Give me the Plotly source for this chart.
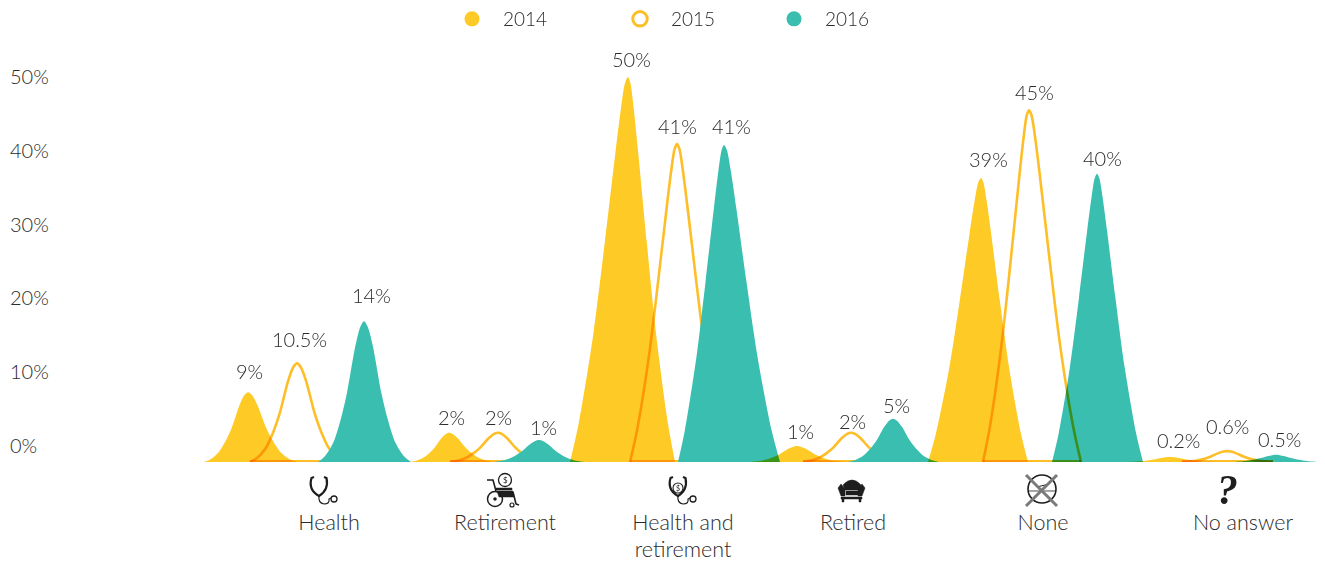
import json
import plotly.graph_objects as go

# ---------- data ----------
categories = ["Health", "Retirement", "Health and<br>retirement", "Retired", "None", "No answer"]
category_pos = [329, 505, 683, 853, 1043, 1243]
years = ["2014", "2015", "2016"]

# plotted peak heights, in units of the value axis
peaks_2014 = [7.3, 1.8, 50.0, 0.0, 36.3, -1.5]
peaks_2015 = [11.2, 1.8, 40.9, 1.8, 45.5, -0.7]
peaks_2016 = [16.9, 0.8, 40.8, 3.7, 36.9, -1.2]

# printed labels
labels_2014 = ["9%", "2%", "50%", "1%", "39%", "0.2%"]
labels_2015 = ["10.5%", "2%", "41%", "2%", "45%", "0.6%"]
labels_2016 = ["14%", "1%", "41%", "5%", "40%", "0.5%"]

# where each hump peaks and where it meets the base line, on the horizontal axis
peak_x_2014 = [248, 449, 628, 797, 981, 1170]
peak_x_2015 = [297, 498, 677, 851, 1029, 1227]
peak_x_2016 = [364, 539, 724, 893, 1097, 1276]
start_2014 = [204, 410, 570, 750, 928, 1125]
start_2015 = [250, 450, 630, 803, 983, 1182]
start_2016 = [318, 493, 678, 848, 1052, 1230]
end_2014 = [297, 494, 675, 845, 1028, 1215]
end_2015 = [345, 545, 725, 900, 1081, 1273]
end_2016 = [411, 585, 780, 939, 1143, 1322]

label_x_2014 = [249, 451, 631, 800, 988, 1178]
label_x_2015 = [299, 498, 677, 852, 1034, 1227]
label_x_2016 = [371, 543, 731, 896, 1102, 1279]
label_px_2014 = [371, 417, 59, 431, 159, 440]
label_px_2015 = [339, 417, 126, 421, 92, 426]
label_px_2016 = [295, 427, 126, 405, 158, 439]

y_ticks = [0, 10, 20, 30, 40, 50]
y_ticktext = ["0%", "10%", "20%", "30%", "40%", "50%"]

# ---------- style ----------
YELLOW = "#FDCA26"
LINE = "#FEBE28"
TEAL = "#39BEB0"
TEXT = "#2b2b2b"
ICON = "#1e1e1e"
FONT = "Lato"
WEIGHT = 300
W, H = 1325, 561
PLOT_BOTTOM = 462
PX_PER_UNIT = 7.38
ZERO_PX = 446
BASE = (ZERO_PX - PLOT_BOTTOM) / PX_PER_UNIT
TOP = ZERO_PX / PX_PER_UNIT

# shape tables of one flank of a hump (distance from the peak, share of the height)
tall_dx = [1, 0.85, 0.6, 0.4, 0.22, 0.12, 0.05, 0]
tall_dy = [0, 0.10, 0.33, 0.57, 0.80, 0.92, 0.985, 1]
short_dx = [1, 0.85, 0.67, 0.5, 0.37, 0.19, 0.08, 0]
short_dy = [0, 0.04, 0.136, 0.31, 0.49, 0.82, 0.96, 1]


def hump(start, peak_x, end, peak):
    dx, dy = (tall_dx, tall_dy) if peak > 30 else (short_dx, short_dy)
    xs = [peak_x - (peak_x - start) * d for d in dx] + [peak_x + (end - peak_x) * d for d in dx[-2::-1]]
    ys = [BASE + (peak - BASE) * d for d in dy + dy[-2::-1]]
    return xs, ys


fig = go.Figure()
multiply = []


def filled(start, peak_x, end, peak, colour, name, blend):
    xs, ys = hump(start, peak_x, end, peak)
    fig.add_trace(go.Scatter(x=xs, y=ys, mode="lines", fill="toself", fillcolor=colour,
                             line=dict(width=0, shape="spline", smoothing=0.8, color=colour),
                             name=name, showlegend=False, hoverinfo="skip", cliponaxis=False))
    multiply.append(blend)


def outlined(start, peak_x, end, peak):
    xs, ys = hump(start, peak_x, end, peak)
    fig.add_trace(go.Scatter(x=xs, y=ys, mode="lines",
                             line=dict(width=2.6, shape="spline", smoothing=0.8, color=LINE),
                             name="2015", showlegend=False, hoverinfo="skip", cliponaxis=False))
    multiply.append(True)
    fig.add_trace(go.Scatter(x=[xs[0], xs[-1]], y=[BASE + 0.12, BASE + 0.12], mode="lines",
                             line=dict(width=2.4, color=LINE),
                             name="2015", showlegend=False, hoverinfo="skip", cliponaxis=False))
    multiply.append(True)


for g in range(len(categories)):
    filled(start_2014[g], peak_x_2014[g], end_2014[g], peaks_2014[g], YELLOW, "2014", True)
    if g < 4:
        outlined(start_2015[g], peak_x_2015[g], end_2015[g], peaks_2015[g])
        filled(start_2016[g], peak_x_2016[g], end_2016[g], peaks_2016[g], TEAL, "2016", False)
    else:
        filled(start_2016[g], peak_x_2016[g], end_2016[g], peaks_2016[g], TEAL, "2016", False)
        outlined(start_2015[g], peak_x_2015[g], end_2015[g], peaks_2015[g])

# ---------- legends ----------
legend_specs = [
    ("legend", "2014", dict(symbol="circle", size=15, color=YELLOW), 441),
    ("legend2", "2015", dict(symbol="circle-open", size=14.5, color=LINE, line=dict(width=3, color=LINE)), 609),
    ("legend3", "2016", dict(symbol="circle", size=15, color=TEAL), 763),
]
legend_layout = {}
for key, name, marker, left in legend_specs:
    fig.add_trace(go.Scatter(x=[None], y=[None], mode="markers", name=name, marker=marker,
                             legend=key, showlegend=True, hoverinfo="skip"))
    multiply.append(False)
    legend_layout[key] = dict(x=left / W, xref="container", xanchor="left",
                              y=1 + 9 / H, yref="container", yanchor="top",
                              itemwidth=52, borderwidth=0, bgcolor="rgba(0,0,0,0)",
                              font=dict(family=FONT, size=19, color=TEXT, weight=WEIGHT), itemclick=False,
                              itemdoubleclick=False)

# ---------- value labels ----------
annotations = []
series_labels = [
    (labels_2014, label_x_2014, label_px_2014),
    (labels_2015, label_x_2015, label_px_2015),
    (labels_2016, label_x_2016, label_px_2016),
]
for texts, xs, pys in series_labels:
    for t, x, py_ in zip(texts, xs, pys):
        annotations.append(dict(x=x, y=(ZERO_PX - py_) / PX_PER_UNIT, xref="x", yref="y", text=t,
                                showarrow=False, xanchor="center", yanchor="middle",
                                font=dict(family=FONT, size=20, color=TEXT, weight=WEIGHT)))


# ---------- icons, in page pixels ----------
def px(x):
    return x / W


def py(y):
    return 1 - y / PLOT_BOTTOM


def path(cmds):
    out = []
    for c in cmds:
        if isinstance(c, str):
            out.append(c)
        else:
            out.append(f"{px(c[0]):.5f},{py(c[1]):.5f}")
    return " ".join(out)


shapes = []


def stroke(cmds, width=2.0, colour=ICON, fill="rgba(0,0,0,0)"):
    shapes.append(dict(type="path", xref="paper", yref="paper", path=path(cmds),
                       line=dict(color=colour, width=width), fillcolor=fill))


def solid(cmds, colour=ICON):
    shapes.append(dict(type="path", xref="paper", yref="paper", path=path(cmds),
                       line=dict(color=colour, width=0.5), fillcolor=colour))


def circle(cx, cy, r, width=1.6, colour=ICON, fill="rgba(0,0,0,0)"):
    shapes.append(dict(type="circle", xref="paper", yref="paper",
                       x0=px(cx - r), x1=px(cx + r), y0=py(cy + r), y1=py(cy - r),
                       line=dict(color=colour, width=width), fillcolor=fill))


def seg(x0, y0, x1, y1, width, colour):
    stroke(["M", (x0, y0), "L", (x1, y1)], width, colour)


def icon_text(x, y, text, family, size):
    annotations.append(dict(x=px(x), y=py(y), xref="paper", yref="paper", text=text, showarrow=False,
                            xanchor="center", yanchor="middle", font=dict(family=family, size=size, color=ICON)))


def stethoscope(o):
    stroke(["M", (o + 5, 477), "L", (o + 2.5, 478), "Q", (o - 1, 490), (o + 10, 496),
            "Q", (o + 20, 490), (o + 17.5, 478), "L", (o + 15, 477)], 2.2)
    stroke(["M", (o + 10, 496), "Q", (o + 9, 503), (o + 15, 504),
            "Q", (o + 21, 504), (o + 20, 499), "L", (o + 22, 498)], 1.2)
    circle(o + 25, 499, 3, 1.3)


stethoscope(309)
stethoscope(668)
circle(678, 488, 5, 1.1)
icon_text(678, 488, "$", FONT, 7)

# wheelchair
circle(505, 480, 6.5, 1.3)
icon_text(505, 480, "$", FONT, 8)
stroke(["M", (487, 480), "L", (493, 480), "L", (496, 491)], 1.6)
solid(["M", (496, 488), "L", (512, 488), "L", (512, 490), "L", (496, 490), "Z"])
solid(["M", (497, 491), "L", (513, 491), "L", (514, 497), "L", (499, 497), "Z"])
stroke(["M", (513, 492), "L", (516, 504), "L", (519, 505)], 1.6)
circle(495, 499, 7.5, 1.5)
circle(495, 499, 1, 1.5, fill=ICON)
circle(512, 505, 2, 1.2)

# armchair
solid(["M", (843, 485), "Q", (852, 475), (861, 485), "L", (859, 490), "L", (845, 490), "Z"])
solid(["M", (838, 488), "L", (841, 484), "L", (845, 489), "L", (845, 496), "L", (841, 496), "Z"])
solid(["M", (865, 488), "L", (862, 484), "L", (858, 489), "L", (858, 496), "L", (862, 496), "Z"])
solid(["M", (846, 491), "L", (858, 491), "L", (858, 495), "L", (846, 495), "Z"])
solid(["M", (841, 497), "L", (862, 497), "L", (862, 499), "L", (841, 499), "Z"])
solid(["M", (842, 499), "L", (844, 499), "L", (844, 502), "L", (842, 502), "Z"])
solid(["M", (859, 499), "L", (861, 499), "L", (861, 502), "L", (859, 502), "Z"])

# crossed-out mark
circle(1042, 489, 14, 1.6)
seg(1028, 491, 1056, 491, 0.8, ICON)
seg(1037, 487, 1049, 484, 1.0, ICON)
seg(1026, 475, 1057, 506, 3, "#7a7a7a")
seg(1057, 475, 1026, 506, 3, "#7a7a7a")

icon_text(1227, 490, "<b><i>?</i></b>", "Liberation Sans Narrow", 42)

# ---------- layout ----------
fig.update_layout(
    width=W, height=H,
    margin=dict(l=0, r=0, t=0, b=H - PLOT_BOTTOM, pad=0, autoexpand=False),
    paper_bgcolor="white", plot_bgcolor="white",
    font=dict(family=FONT, size=20, color=TEXT),
    xaxis=dict(range=[0, W], showgrid=False, zeroline=False, showline=False, ticks="",
               tickmode="array", tickvals=category_pos, ticktext=categories,
               ticklabelstandoff=45, tickangle=0,
               tickfont=dict(family=FONT, size=21.5, color=TEXT, weight=WEIGHT)),
    yaxis=dict(range=[BASE, TOP], showgrid=False, zeroline=False, showline=False, ticks="",
               tickmode="array", tickvals=y_ticks, ticktext=y_ticktext,
               ticklabelposition="inside", ticklabelstandoff=7,
               tickfont=dict(family=FONT, size=20, color=TEXT, weight=WEIGHT)),
    annotations=annotations,
    shapes=shapes,
    **legend_layout,
)

post = """
document.documentElement.style.margin = 0;
document.body.style.margin = 0;
document.body.style.overflow = 'hidden';
var flags = %s;
var traces = document.querySelectorAll('.scatterlayer .trace');
traces.forEach(function (t, i) { if (flags[i]) { t.style.mixBlendMode = 'multiply'; } });
""" % json.dumps(multiply)

fig.write_html("out.html", post_script=post, config={"displayModeBar": False})
